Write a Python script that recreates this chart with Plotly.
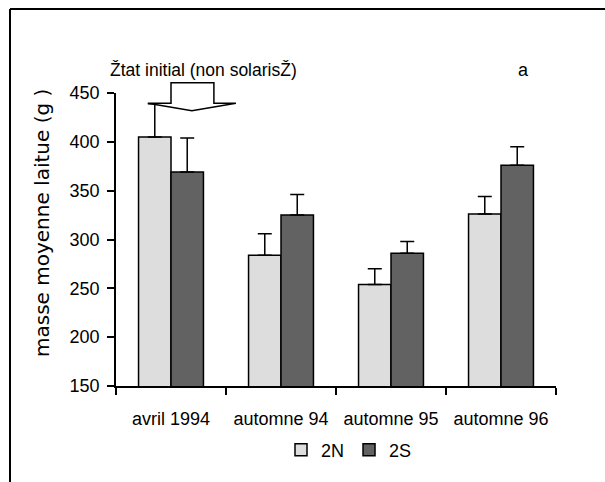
import plotly.graph_objects as go

categories = ["avril 1994", "automne 94", "automne 95", "automne 96"]
mean_2N = [405, 284, 254, 326]
err_2N = [34, 22, 16, 18]
mean_2S = [369, 325, 286, 376]
err_2S = [35, 21, 12, 19]
series_names = ["2N", "2S"]
y_ticks = [150, 200, 250, 300, 350, 400, 450]
y_range = [150, 450]
annotation_text = "Žtat initial (non solarisŽ)"
panel_label = "a"
y_title = "masse moyenne laitue (g )"

W, H = 605, 482
ML, MR, MT, MB = 116, 49, 93, 96
PW = W - ML - MR
PH = H - MT - MB

def px_x(p):
    return (p - ML) / PW

def px_y(p):
    return (H - MB - p) / PH

def dy(v):
    return (v - y_range[0]) / (y_range[1] - y_range[0])

FONT = "Liberation Sans, Arial, sans-serif"

fig = go.Figure()
fig.add_trace(go.Bar(
    x=categories, y=mean_2N, name=series_names[0],
    marker=dict(color="#dddddd", line=dict(color="black", width=1.5)),
    error_y=dict(type="data", array=err_2N, arrayminus=[0]*4, symmetric=False,
                 color="black", thickness=1.5, width=7),
))
fig.add_trace(go.Bar(
    x=categories, y=mean_2S, name=series_names[1],
    marker=dict(color="#626262", line=dict(color="black", width=1.5)),
    error_y=dict(type="data", array=err_2S, arrayminus=[0]*4, symmetric=False,
                 color="black", thickness=1.5, width=7),
))

# block arrow (x in category units, y in data units, both converted to paper)
def cx(c):
    return (c + 0.5) / len(categories)

arrow_pts = [(0.0, 460.5), (0.39, 460.5), (0.39, 439.6), (0.59, 439.6),
             (0.19, 431.9), (-0.21, 439.6), (0.0, 439.6)]
path = "M " + " L ".join(f"{cx(a):.4f},{dy(b):.4f}" for a, b in arrow_pts) + " Z"

shapes = [
    dict(type="path", xref="paper", yref="paper", path=path,
         line=dict(color="black", width=1.5), fillcolor="white", layer="above"),
    # outer frame (left and top)
    dict(type="line", xref="paper", yref="paper", x0=px_x(10), x1=px_x(10),
         y0=px_y(9), y1=px_y(H + 5), line=dict(color="black", width=2)),
    dict(type="line", xref="paper", yref="paper", x0=px_x(10), x1=px_x(W + 5),
         y0=px_y(9), y1=px_y(9), line=dict(color="black", width=2)),
]

annotations = [
    dict(xref="paper", yref="paper", x=px_x(108), y=px_y(70), text=annotation_text,
         showarrow=False, xanchor="left", yanchor="middle",
         font=dict(family=FONT, size=17.5, color="black")),
    dict(xref="paper", yref="paper", x=px_x(523), y=px_y(70), text=panel_label,
         showarrow=False, xanchor="center", yanchor="middle",
         font=dict(family=FONT, size=18, color="black")),
    dict(xref="paper", yref="paper", x=px_x(42), y=px_y(223), text=y_title,
         showarrow=False, textangle=-90, xanchor="center", yanchor="middle",
         font=dict(family="DejaVu Sans, sans-serif", size=20, color="black")),
]

fig.update_layout(
    width=W, height=H,
    margin=dict(l=ML, r=MR, t=MT, b=MB, pad=0),
    paper_bgcolor="white", plot_bgcolor="white",
    barmode="group", bargap=0.41, bargroupgap=0,
    font=dict(family=FONT, size=18, color="black"),
    showlegend=True,
    legend=dict(orientation="h", x=px_x(349), xanchor="center", y=px_y(450),
                yanchor="middle", font=dict(family=FONT, size=18),
                itemwidth=30, traceorder="normal"),
    shapes=shapes, annotations=annotations,
)
fig.update_xaxes(
    type="category", tickson="boundaries", ticks="outside", ticklen=7,
    tickwidth=1.5, tickcolor="black", showline=True, linecolor="black",
    linewidth=1.5, showgrid=False, zeroline=False, tickangle=0,
    tickfont=dict(family=FONT, size=18), automargin=False,
    ticklabelstandoff=16,
)
fig.update_yaxes(
    range=y_range, tickvals=y_ticks, ticks="outside", ticklen=7,
    tickwidth=1.5, tickcolor="black", showline=True, linecolor="black",
    linewidth=1.5, showgrid=False, zeroline=False,
    tickfont=dict(family=FONT, size=18), automargin=False,
    ticklabelstandoff=4,
)

fig.write_html("out.html")
